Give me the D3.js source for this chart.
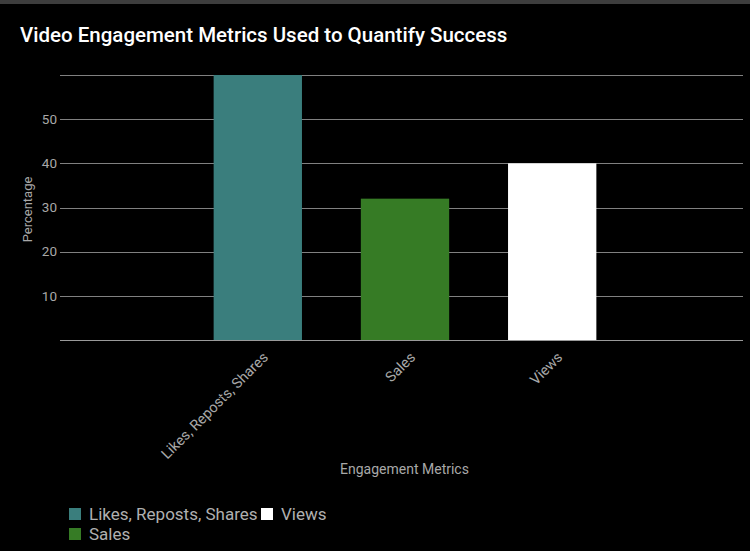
<!DOCTYPE html>
<html>
<head>
<meta charset="utf-8">
<script src="https://cdn.jsdelivr.net/npm/d3@7"></script>
<style>
  html, body { margin: 0; padding: 0; background: #000; }
  svg { display: block; font-family: Roboto, "Open Sans", sans-serif; }
</style>
</head>
<body>
<svg id="chart"></svg>
<script>
var categories = ["Likes, Reposts, Shares", "Sales", "Views"];
var values = [60, 32, 40];
var colors = ["#3a7e7d", "#367b25", "#ffffff"];
var yTicks = [10, 20, 30, 40, 50, 60];
var yTickLabels = ["10", "20", "30", "40", "50", ""];

var w = 750,
		h = 551,
		plotLeft = 60,
		plotRight = 743,
		plotTop = 75,
		plotBottom = 340;

var svg = d3.select("#chart")
		.attr("width", w)
		.attr("height", h);

svg.append("rect")
		.attr("width", w)
		.attr("height", h)
		.attr("fill", "#000");

// grey strip at the very top
svg.append("rect")
		.attr("width", w)
		.attr("height", 4)
		.attr("fill", "#3d3d3d");

// bands sit a little right of the grid's centre
var xScale = d3.scaleBand()
		.domain(categories)
		.range([plotLeft + 3.5, plotRight + 3.5])
		.paddingInner(0.4)
		.paddingOuter(1.02);

var yScale = d3.scaleLinear()
		.domain([0, 60])
		.range([plotBottom, plotTop]);

svg.append("text")
		.attr("x", 20)
		.attr("y", 42)
		.attr("fill", "#fff")
		.attr("font-size", 20.5)
		.attr("font-weight", 500)
		.text("Video Engagement Metrics Used to Quantify Success");

// grid lines
svg.append("g")
	.selectAll("line")
	.data(yTicks)
	.enter().append("line")
		.attr("x1", plotLeft)
		.attr("x2", plotRight)
		.attr("y1", function(d) { return Math.round(yScale(d)) + 0.5; })
		.attr("y2", function(d) { return Math.round(yScale(d)) + 0.5; })
		.attr("stroke", "#808080")
		.attr("stroke-width", 1);

svg.append("g")
	.selectAll("text")
	.data(yTicks)
	.enter().append("text")
		.attr("x", 57)
		.attr("y", function(d) { return yScale(d); })
		.attr("dy", "0.35em")
		.attr("text-anchor", "end")
		.attr("fill", "#a8a8a8")
		.attr("font-size", 13.5)
		.text(function(d, i) { return yTickLabels[i]; });

svg.append("text")
		.attr("transform", "translate(32," + ((plotTop + plotBottom) / 2 + 2) + ") rotate(-90)")
		.attr("text-anchor", "middle")
		.attr("fill", "#a8a8a8")
		.attr("font-size", 13)
		.text("Percentage");

// bars
svg.append("g")
	.selectAll("rect")
	.data(values)
	.enter().append("rect")
		.attr("x", function(d, i) { return xScale(categories[i]); })
		.attr("y", function(d) { return yScale(d); })
		.attr("width", xScale.bandwidth())
		.attr("height", function(d) { return plotBottom - yScale(d); })
		.attr("fill", function(d, i) { return colors[i]; });

// baseline
svg.append("line")
		.attr("x1", plotLeft)
		.attr("x2", plotRight)
		.attr("y1", plotBottom + 0.5)
		.attr("y2", plotBottom + 0.5)
		.attr("stroke", "#9a9a9a")
		.attr("stroke-width", 1.2);

svg.append("g")
	.selectAll("text")
	.data(categories)
	.enter().append("text")
		.attr("transform", function(d) {
			return "translate(" + (xScale(d) + xScale.bandwidth() / 2 + 4) + "," + (plotBottom + 11) + ") rotate(-45)";
		})
		.attr("text-anchor", "end")
		.attr("dy", "0.7em")
		.attr("fill", "#a8a8a8")
		.attr("font-size", 14.5)
		.text(function(d) { return d; });

svg.append("text")
		.attr("x", (plotLeft + plotRight) / 2 + 3)
		.attr("y", 474)
		.attr("text-anchor", "middle")
		.attr("fill", "#a8a8a8")
		.attr("font-size", 14)
		.text("Engagement Metrics");

// legend, column-major with two rows
var legend = svg.append("g")
	.selectAll("g")
	.data(categories)
	.enter().append("g")
		.attr("transform", function(d, i) {
			var col = Math.floor(i / 2), row = i % 2;
			return "translate(" + (69 + col * 192) + "," + (508 + row * 20) + ")";
		});

legend.append("rect")
		.attr("width", 12)
		.attr("height", 12)
		.attr("fill", function(d, i) { return colors[i]; });

legend.append("text")
		.attr("x", 20)
		.attr("y", 6)
		.attr("dy", "0.36em")
		.attr("fill", "#b0b0b0")
		.attr("font-size", 17)
		.text(function(d) { return d; });
</script>
</body>
</html>
